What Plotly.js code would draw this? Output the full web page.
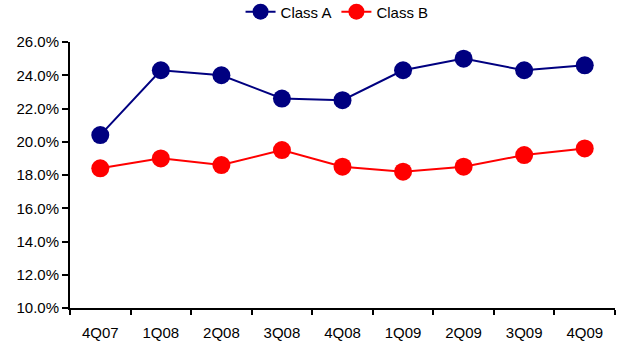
<!DOCTYPE html>
<html>
<head>
<meta charset="utf-8">
<script src="https://cdn.plot.ly/plotly-3.0.1.min.js"></script>
<style>html,body{margin:0;padding:0;background:#fff;}#chart{width:619px;height:343px;}</style>
</head>
<body>
<div id="chart"></div>
<script>
const categories = ["4Q07","1Q08","2Q08","3Q08","4Q08","1Q09","2Q09","3Q09","4Q09"];
const classA = [20.4, 24.3, 24.0, 22.6, 22.5, 24.3, 25.0, 24.3, 24.6];
const classB = [18.4, 19.0, 18.6, 19.5, 18.5, 18.2, 18.5, 19.2, 19.6];
const yTicks = [10, 12, 14, 16, 18, 20, 22, 24, 26];

const traces = [
  {x: categories, y: classA, name: "Class A", type: "scatter", mode: "lines+markers",
   line: {color: "#000080", width: 2}, marker: {color: "#000080", size: 18}},
  {x: categories, y: classB, name: "Class B", type: "scatter", mode: "lines+markers",
   line: {color: "#FF0000", width: 2}, marker: {color: "#FF0000", size: 18}}
];

const layout = {
  width: 619, height: 343,
  margin: {l: 70, r: 4, t: 42, b: 35, autoexpand: false},
  paper_bgcolor: "#fff", plot_bgcolor: "#fff",
  font: {family: "Liberation Sans, Arial, sans-serif", size: 15, color: "#000"},
  showlegend: true,
  legend: {orientation: "h", x: 0.49, xanchor: "center", y: 1.113, yanchor: "middle",
           font: {size: 15}, itemwidth: 30, tracegroupgap: 0},
  xaxis: {type: "category", range: [-0.5, 8.5], showline: true, linecolor: "#000", linewidth: 2,
          ticks: "outside", tickson: "boundaries", ticklen: 5, tickwidth: 2, tickcolor: "#000",
          showgrid: false, zeroline: false, fixedrange: true, ticklabelstandoff: 10, automargin: false},
  yaxis: {range: [10, 26], tickvals: yTicks, ticktext: yTicks.map(v => v.toFixed(1) + "%"),
          showline: true, linecolor: "#000", linewidth: 2, ticks: "outside", ticklen: 6, tickwidth: 2,
          tickcolor: "#000", showgrid: false, zeroline: false, fixedrange: true, automargin: false}
};

Plotly.newPlot("chart", traces, layout, {displayModeBar: false, staticPlot: true});
</script>
</body>
</html>
